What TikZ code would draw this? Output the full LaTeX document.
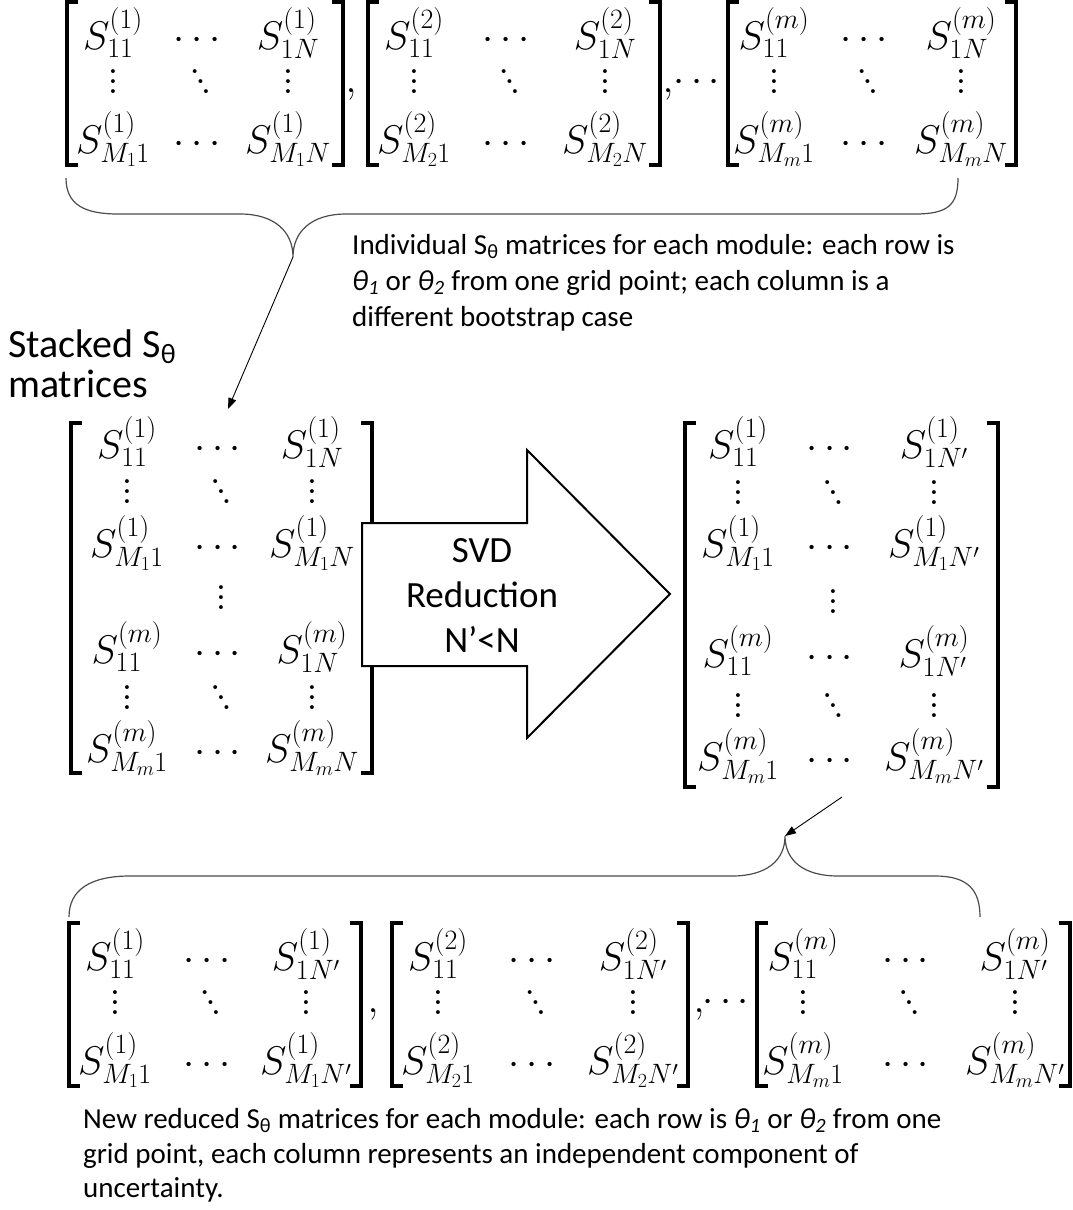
\RequirePackage{fix-cm}
\documentclass[tikz,border=0pt]{standalone}
\usepackage{amsmath}
\usepackage[no-math]{fontspec}
\setmainfont{Carlito}
\usetikzlibrary{arrows.meta}
\newcommand\myvd{\vbox{\baselineskip=0.25em\lineskiplimit=0pt\hbox{$.$}\hbox{$.$}\hbox{$.$}}}
\newcommand\mydd{\hbox{\raisebox{0.5em}{$.$}\kern-0.13em\raisebox{0.25em}{$.$}\kern-0.13em$.$}}
\tikzset{
  ent/.style={anchor=base, inner sep=0pt, font=\fontsize{40}{47}\selectfont},
  dotn/.style={anchor=center, inner sep=0pt, font=\fontsize{40}{47}\selectfont},
  brk/.style={line width=3.5pt, line cap=butt, line join=miter},
  bracepath/.style={line width=1.2pt, draw=black!70},
  conn/.style={line width=0.9pt, -{Triangle[length=11pt,width=8pt]}},
  txt/.style={anchor=base west, inner sep=0pt, font=\fontsize{29}{35}\selectfont},
  bigtxt/.style={anchor=base west, inner sep=0pt, font=\fontsize{40}{48}\selectfont},
  arrtxt/.style={anchor=base, inner sep=0pt, font=\fontsize{37}{44}\selectfont},
  bigarrow/.style={line width=2pt, draw=black, fill=white, line join=miter},
}
% #1 name, #2 L, #3 R, #4 T, #5 sup, #6 M index, #7 N
\newcommand\smallmat[7]{%
  \pgfmathsetmacro\mcA{#2+46}\pgfmathsetmacro\mcC{#3-55}\pgfmathsetmacro\mcB{(\mcA+\mcC)/2}%
  \pgfmathsetmacro\mrA{#4+47}\pgfmathsetmacro\mrV{#4+80}\pgfmathsetmacro\mrB{#4+151}\pgfmathsetmacro\mbB{#4+163}%
  \node[ent] (#1-11) at (\mcA,\mrA) {$S^{(#5)}_{11}$};
  \node[ent] (#1-12) at (\mcB,\mrA) {$\cdots$};
  \node[ent] (#1-13) at (\mcC,\mrA) {$S^{(#5)}_{1#7}$};
  \node[dotn] (#1-21) at (\mcA,\mrV) {\myvd};
  \node[dotn] (#1-22) at (\mcB,\mrV) {\mydd};
  \node[dotn] (#1-23) at (\mcC,\mrV) {\myvd};
  \node[ent] (#1-31) at (\mcA,\mrB) {$S^{(#5)}_{#61}$};
  \node[ent] (#1-32) at (\mcB,\mrB) {$\cdots$};
  \node[ent] (#1-33) at (\mcC,\mrB) {$S^{(#5)}_{#6#7}$};
  \draw[brk] (#2+11,#4) -- (#2,#4) -- (#2,\mbB) -- (#2+11,\mbB);
  \draw[brk] (#3-11,#4) -- (#3,#4) -- (#3,\mbB) -- (#3-11,\mbB);
}
\begin{document}
\begin{tikzpicture}[x=1pt,y=-1pt]
\useasboundingbox (0,0) rectangle (1073,1210);
\fill[white] (0,0) rectangle (1073,1210);

% ---------- top row of matrices ----------
\smallmat{ta}{67}{343}{2}{1}{M_1}{N}
\node[ent] (tcomma1) at (351,92) {$,$};
\smallmat{tb}{368}{660}{2}{2}{M_2}{N}
\node[ent] (tcomma2) at (668,92) {$,$};
\node[dotn] (tdots) at (700,83) {$\cdots$};
\smallmat{tc}{728}{1016}{2}{m}{M_m}{N}

% top brace
\draw[bracepath] (66,178) .. controls (66,205) and (85,214) .. (118,214) -- (240,214)
  .. controls (275,214) and (293,232) .. (293,257)
  .. controls (293,232) and (311,214) .. (346,214) -- (915,214)
  .. controls (948,214) and (958,205) .. (958,178);
\coordinate (tcusp) at (293,257);

\node[txt] (ti1) at (352,254) {Individual S\textsubscript{θ} matrices for each module: each row is};
\node[txt] (ti2) at (352,290) {\textit{θ\textsubscript{1}} or \textit{θ\textsubscript{2}} from one grid point; each column is a};
\node[txt] (ti3) at (352,326) {different bootstrap case};

\node[bigtxt] (st1) at (8,357) {Stacked S\textsubscript{θ}};
\node[bigtxt] (st2) at (8,397) {matrices};

\coordinate (ain) at (228,409);
\draw[conn] (tcusp) -- (ain);

% ---------- stacked matrix (left) ----------
\node[ent] (sl-11) at (127,458) {$S^{(1)}_{11}$};
\node[ent] (sl-12) at (221,458) {$\cdots$};
\node[ent] (sl-13) at (312,458) {$S^{(1)}_{1N}$};
\node[dotn] (sl-21) at (127,492) {\myvd};
\node[dotn] (sl-22) at (221,492) {\mydd};
\node[dotn] (sl-23) at (312,492) {\myvd};
\node[ent] (sl-31) at (127,557) {$S^{(1)}_{M_11}$};
\node[ent] (sl-32) at (221,557) {$\cdots$};
\node[ent] (sl-33) at (312,557) {$S^{(1)}_{M_1N}$};
\node[dotn] (sl-40) at (221,598) {\myvd};
\node[ent] (sl-51) at (127,663) {$S^{(m)}_{11}$};
\node[ent] (sl-52) at (221,663) {$\cdots$};
\node[ent] (sl-53) at (312,663) {$S^{(m)}_{1N}$};
\node[dotn] (sl-61) at (127,698) {\myvd};
\node[dotn] (sl-62) at (221,698) {\mydd};
\node[dotn] (sl-63) at (312,698) {\myvd};
\node[ent] (sl-71) at (127,762) {$S^{(m)}_{M_m1}$};
\node[ent] (sl-72) at (221,762) {$\cdots$};
\node[ent] (sl-73) at (312,762) {$S^{(m)}_{M_mN}$};
\draw[brk] (82,423) -- (71,423) -- (71,773) -- (82,773);
\draw[brk] (361,423) -- (372,423) -- (372,773) -- (361,773);

% ---------- big arrow ----------
\draw[bigarrow] (362,523) -- (527,523) -- (527,450) -- (670,594) -- (527,738) -- (527,666) -- (362,666) -- cycle;
\node[arrtxt] (svd1) at (482,562) {SVD};
\node[arrtxt] (svd2) at (482,607) {Reduction};
\node[arrtxt] (svd3) at (482,652) {N’<N};

% ---------- reduced stacked matrix (right) ----------
\node[ent] (sr-11) at (738,458) {$S^{(1)}_{11}$};
\node[ent] (sr-12) at (833,458) {$\cdots$};
\node[ent] (sr-13) at (934,458) {$S^{(1)}_{1N'}$};
\node[dotn] (sr-21) at (738,493) {\myvd};
\node[dotn] (sr-22) at (833,493) {\mydd};
\node[dotn] (sr-23) at (934,493) {\myvd};
\node[ent] (sr-31) at (738,557) {$S^{(1)}_{M_11}$};
\node[ent] (sr-32) at (833,557) {$\cdots$};
\node[ent] (sr-33) at (934,557) {$S^{(1)}_{M_1N'}$};
\node[dotn] (sr-40) at (833,602) {\myvd};
\node[ent] (sr-51) at (738,667) {$S^{(m)}_{11}$};
\node[ent] (sr-52) at (833,667) {$\cdots$};
\node[ent] (sr-53) at (934,667) {$S^{(m)}_{1N'}$};
\node[dotn] (sr-61) at (738,706) {\myvd};
\node[dotn] (sr-62) at (833,706) {\mydd};
\node[dotn] (sr-63) at (934,706) {\myvd};
\node[ent] (sr-71) at (738,770) {$S^{(m)}_{M_m1}$};
\node[ent] (sr-72) at (833,770) {$\cdots$};
\node[ent] (sr-73) at (934,770) {$S^{(m)}_{M_mN'}$};
\draw[brk] (696,423) -- (685,423) -- (685,787) -- (696,787);
\draw[brk] (987,423) -- (998,423) -- (998,787) -- (987,787);

% ---------- bottom brace and connector ----------
\coordinate (bstart) at (842,797);
\coordinate (bcusp) at (785,836);
\draw[bracepath] (69,917) .. controls (69,890) and (90,876) .. (130,876) -- (732,876)
  .. controls (767,876) and (785,860) .. (785,836)
  .. controls (785,860) and (803,876) .. (838,876) -- (935,876)
  .. controls (968,876) and (980,890) .. (980,917);
\draw[conn] (bstart) -- (bcusp);

% ---------- bottom row of matrices ----------
\smallmat{ba}{69}{361}{923}{1}{M_1}{N'}
\node[ent] (bcomma1) at (373,1012) {$,$};
\smallmat{bb}{392}{688}{923}{2}{M_2}{N'}
\node[ent] (bcomma2) at (699,1012) {$,$};
\node[dotn] (bdots) at (729,1003) {$\cdots$};
\smallmat{bc}{757}{1070}{923}{m}{M_m}{N'}

\node[txt] (bt1) at (83,1128) {New reduced S\textsubscript{θ} matrices for each module: each row is \textit{θ\textsubscript{1}} or \textit{θ\textsubscript{2}} from one};
\node[txt] (bt2) at (83,1163) {grid point, each column represents an independent component of};
\node[txt] (bt3) at (83,1197) {uncertainty.};
\end{tikzpicture}
\end{document}
